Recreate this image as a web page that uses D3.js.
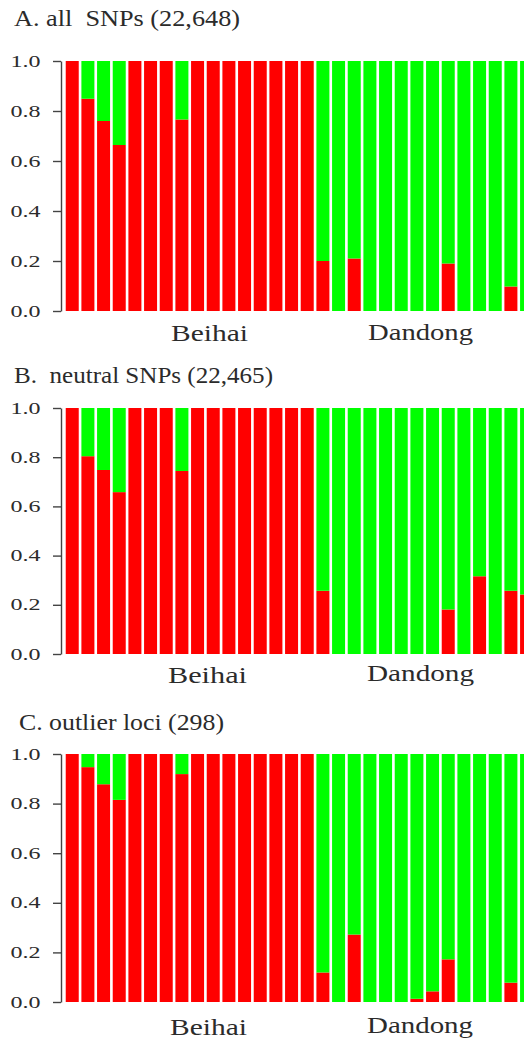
<!DOCTYPE html>
<html>
<head>
<meta charset="utf-8">
<script src="https://cdn.jsdelivr.net/npm/d3@7"></script>
<style>
  body { margin: 0; background: #fff; }
  svg text { font-family: 'Liberation Serif', 'Times New Roman', Times, 'DejaVu Serif', serif; fill: #2b2b2b; white-space: pre; }
</style>
</head>
<body>
<div id="chart"></div>
<script>
// 30 individuals: 16 Beihai then 14 Dandong (last one cut by the frame)
var groups = ["Beihai", "Dandong"]
var groupSizes = [16, 14]
var yTicks = [0, 0.2, 0.4, 0.6, 0.8, 1.0]

// proportion of the "red" cluster for each individual, the rest is green
var allSnps = [1, 0.849, 0.760, 0.664, 1, 1, 1, 0.766, 1, 1, 1, 1, 1, 1, 1, 1,
  0.20, 0, 0.21, 0, 0, 0, 0, 0, 0.19, 0, 0, 0, 0.098, 0]
var neutralSnps = [1, 0.804, 0.748, 0.658, 1, 1, 1, 0.744, 1, 1, 1, 1, 1, 1, 1, 1,
  0.257, 0, 0, 0, 0, 0, 0, 0, 0.181, 0, 0.316, 0, 0.257, 0.242]
var outlierLoci = [1, 0.947, 0.878, 0.815, 1, 1, 1, 0.919, 1, 1, 1, 1, 1, 1, 1, 1,
  0.119, 0, 0.272, 0, 0, 0, 0.013, 0.043, 0.172, 0, 0, 0, 0.078, 0]

var titles = ["A. all  SNPs (22,648)", "B.  neutral SNPs (22,465)", "C. outlier loci (298)"]

var width = 524, height = 1041
var red = "#ff0000", green = "#00ff00"
var serif = "'Liberation Serif', 'Times New Roman', Times, 'DejaVu Serif', serif"

var panels = [
  { title: titles[0], values: allSnps, top: 61, bottom: 311, titleY: 26, titleX: 14, titleLen: 226,
    labelY: [341, 340], labelX: [171, 368], labelLen: [77, 105] },
  { title: titles[1], values: neutralSnps, top: 408, bottom: 654, titleY: 383, titleX: 14, titleLen: 259,
    labelY: [683, 681], labelX: [168, 367], labelLen: [79, 107] },
  { title: titles[2], values: outlierLoci, top: 754, bottom: 1002, titleY: 730, titleX: 19, titleLen: 205,
    labelY: [1035, 1033], labelX: [170, 367], labelLen: [77, 106] }
]

var svg = d3.select("#chart")
  .append("svg")
  .attr("width", width)
  .attr("height", height)

var n = d3.sum(groupSizes)
var x = d3.scaleBand()
  .domain(d3.range(n))
  .range([64.4, 534.4])
  .paddingInner(0.17)
  .paddingOuter(0.085)

panels.forEach(function (p) {
  var y = d3.scaleLinear().domain([0, 1]).range([p.bottom, p.top])
  var g = svg.append("g")

  var bar = g.selectAll("g.bar")
    .data(p.values)
    .join("g")
    .attr("class", "bar")

  // red part from the bottom
  bar.append("rect")
    .attr("x", function (d, i) { return x(i) })
    .attr("width", x.bandwidth())
    .attr("y", function (d) { return y(d) })
    .attr("height", function (d) { return y(0) - y(d) })
    .attr("fill", red)

  // green part on top
  bar.append("rect")
    .attr("x", function (d, i) { return x(i) })
    .attr("width", x.bandwidth())
    .attr("y", y(1))
    .attr("height", function (d) { return y(d) - y(1) })
    .attr("fill", green)

  // y axis
  var axis = g.append("g")
    .attr("transform", "translate(61,0)")
    .call(d3.axisLeft(y).tickValues(yTicks).tickFormat(d3.format(".1f")).tickSize(8).tickSizeOuter(0))
  axis.attr("font-family", serif)
  axis.select(".domain").attr("stroke", "#444").attr("stroke-width", 1.4)
  axis.selectAll(".tick line").attr("stroke", "#444").attr("stroke-width", 1.4)
  axis.selectAll(".tick text")
    .attr("x", -20.5)
    .attr("font-size", 16)
    .attr("textLength", 30)
    .attr("lengthAdjust", "spacingAndGlyphs")
    .attr("fill", "#2b2b2b")

  // panel title
  g.append("text")
    .attr("x", p.titleX)
    .attr("y", p.titleY)
    .attr("font-family", serif)
    .attr("font-size", 24)
    .attr("textLength", p.titleLen)
    .attr("lengthAdjust", "spacingAndGlyphs")
    .text(p.title)

  // population labels
  groups.forEach(function (name, k) {
    g.append("text")
      .attr("x", p.labelX[k])
      .attr("y", p.labelY[k])
      .attr("font-family", serif)
      .attr("font-size", 24)
      .attr("textLength", p.labelLen[k])
      .attr("lengthAdjust", "spacingAndGlyphs")
      .text(name)
  })
})
</script>
</body>
</html>
